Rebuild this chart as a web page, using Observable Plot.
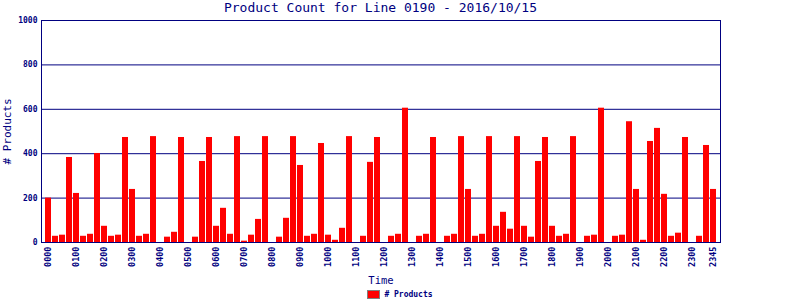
<!DOCTYPE html>
<html>
<head>
<meta charset="utf-8">
<script src="https://cdn.jsdelivr.net/npm/d3@7"></script>
<script src="https://cdn.jsdelivr.net/npm/@observablehq/plot@0.6"></script>
<style>
  html, body { margin: 0; padding: 0; background: #fff; }
  body { width: 800px; height: 300px; overflow: hidden; font-family: "DejaVu Sans Mono", monospace; color: #000080; }
  #title { width: 761px; height: 16px; line-height: 16px; font-size: 13px; text-align: center; white-space: pre; }
  #legend { width: 800px; height: 12px; display: flex; align-items: center; justify-content: center; font-size: 8px; font-weight: bold; }
  #legend .sw { display: inline-block; width: 11px; height: 7px; background: #ff0000; border: 1px solid #808080; margin-right: 4px; }
  svg { display: block; }
</style>
</head>
<body>
<div id="title">Product Count for Line 0190 - 2016/10/15</div>
<div id="chart"></div>
<div id="legend"><span class="sw"></span><span># Products</span></div>
<script>
const times = [
  "0000","0015","0030","0045","0100","0115","0130","0145",
  "0200","0215","0230","0245","0300","0315","0330","0345",
  "0400","0415","0430","0445","0500","0515","0530","0545",
  "0600","0615","0630","0645","0700","0715","0730","0745",
  "0800","0815","0830","0845","0900","0915","0930","0945",
  "1000","1015","1030","1045","1100","1115","1130","1145",
  "1200","1215","1230","1245","1300","1315","1330","1345",
  "1400","1415","1430","1445","1500","1515","1530","1545",
  "1600","1615","1630","1645","1700","1715","1730","1745",
  "1800","1815","1830","1845","1900","1915","1930","1945",
  "2000","2015","2030","2045","2100","2115","2130","2145",
  "2200","2215","2230","2245","2300","2315","2330","2345"
];
const products = [
  200, 28, 33, 383, 221, 28, 37, 401,
  73, 28, 33, 473, 239, 28, 37, 477,
  0, 24, 46, 473, 0, 24, 365, 473,
  73, 154, 37, 477, 6, 33, 104, 477,
  0, 24, 109, 477, 347, 28, 37, 446,
  33, 10, 64, 477, 0, 28, 361, 473,
  0, 28, 37, 605, 0, 28, 37, 473,
  0, 28, 37, 477, 239, 28, 37, 477,
  73, 136, 60, 477, 73, 24, 365, 473,
  73, 28, 37, 477, 0, 28, 33, 605,
  0, 28, 33, 544, 239, 10, 455, 514,
  217, 28, 42, 473, 0, 28, 437, 239
];
const xTicks = ["0000","0100","0200","0300","0400","0500","0600","0700","0800","0900","1000","1100",
  "1200","1300","1400","1500","1600","1700","1800","1900","2000","2100","2200","2300","2345"];
const yTicks = [0, 200, 400, 600, 800, 1000];

const data = times.map((t, i) => ({time: t, value: products[i]}));
const navy = "#000080";
const mono = "DejaVu Sans Mono";

const chart = Plot.plot({
  width: 800,
  height: 272,
  marginTop: 4,
  marginLeft: 41,
  marginRight: 80,
  marginBottom: 46,
  style: {fontFamily: mono, color: navy, background: "#fff"},
  x: {type: "band", domain: times, paddingInner: 0.15, paddingOuter: 0.5},
  y: {domain: [0, 1000]},
  marks: [
    Plot.ruleY(yTicks, {stroke: navy, strokeWidth: 1}),
    Plot.barY(data, {x: "time", y: "value", fill: "#ff0000"}),
    Plot.frame({stroke: navy, strokeWidth: 1}),
    Plot.axisY({
      ticks: yTicks, tickSize: 0, tickPadding: 4, tickFormat: d => String(d),
      fontSize: 8, fontWeight: "bold", fontFamily: mono, fill: navy,
      label: null
    }),
    Plot.axisY({
      ticks: [], label: "# Products", labelAnchor: "center", labelArrow: "none",
      labelOffset: 38, fontSize: 11, fontFamily: mono, fill: navy
    }),
    Plot.axisX({
      ticks: xTicks, tickSize: 0, tickPadding: 4, tickRotate: -90,
      fontSize: 8.5, fontWeight: "bold", fontFamily: mono, fill: navy,
      label: null
    }),
    Plot.axisX({
      ticks: [], label: "Time", labelAnchor: "center", labelArrow: "none",
      labelOffset: 41, fontSize: 10.5, fontFamily: mono, fill: navy
    })
  ]
});
document.getElementById("chart").appendChild(chart);
</script>
</body>
</html>
